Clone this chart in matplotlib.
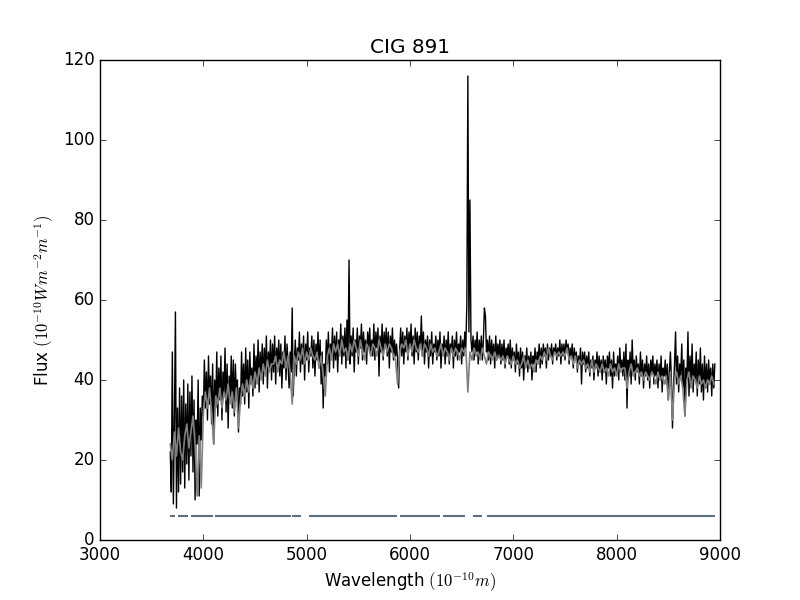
#!/usr/bin/env python3
import matplotlib
matplotlib.use('Agg')
import matplotlib.pyplot as plt
import numpy as np

obs_start, obs_step = 3680, 10
obs_flux = [
    22, 12, 47, 9, 30, 57, 8, 33, 12, 38,      # 3680
    14, 36, 17, 40, 13, 34, 19, 39, 15, 37,    # 3780
    21, 41, 17, 35, 10, 30, 24, 40, 11, 33,    # 3880
    25, 36, 31, 45, 33, 42, 30, 46, 34, 41,    # 3980
    29, 44, 24, 40, 33, 47, 31, 43, 35, 46,    # 4080
    30, 42, 36, 48, 32, 44, 28, 41, 35, 46,    # 4180
    33, 45, 31, 44, 36, 40, 27, 38, 34, 47,    # 4280
    36, 44, 34, 48, 37, 45, 33, 47, 39, 43,    # 4380
    36, 49, 38, 46, 40, 50, 37, 47, 41, 49,    # 4480
    39, 48, 42, 51, 38, 47, 43, 50, 40, 49,    # 4580
    42, 51, 39, 48, 44, 50, 41, 49, 38, 47,    # 4680
    43, 51, 40, 49, 44, 38, 47, 42, 58, 36,    # 4780
    44, 50, 41, 48, 45, 52, 42, 49, 44, 51,    # 4880
    40, 49, 45, 52, 42, 48, 46, 51, 43, 50,    # 4980
    41, 49, 45, 52, 43, 50, 39, 47, 33, 44,    # 5080
    41, 50, 44, 52, 42, 49, 46, 53, 43, 51,    # 5180
    45, 52, 42, 50, 47, 54, 44, 51, 46, 53,    # 5280
    43, 55, 45, 70, 44, 51, 46, 53, 42, 50,    # 5380
    47, 53, 44, 51, 48, 54, 45, 52, 47, 50,    # 5480
    44, 52, 48, 53, 46, 50, 46, 54, 45, 52,    # 5580
    48, 53, 41, 51, 47, 54, 45, 52, 48, 53,    # 5680
    46, 52, 43, 51, 47, 53, 45, 50, 46, 49,    # 5780
    45, 38, 48, 53, 46, 52, 44, 51, 47, 53,    # 5880
    45, 52, 48, 54, 46, 51, 44, 53, 47, 52,    # 5980
    45, 51, 48, 56, 46, 52, 44, 50, 47, 51,    # 6080
    43, 50, 46, 52, 44, 49, 47, 51, 45, 50,    # 6180
    46, 52, 43, 49, 47, 51, 44, 50, 46, 52,    # 6280
    44, 49, 47, 51, 43, 50, 46, 52, 45, 49,    # 6380
    47, 51, 44, 50, 46, 52, 48, 59, 116, 52,   # 6480
    85, 50, 47, 51, 45, 50, 47, 52, 44, 50,    # 6580
    46, 51, 45, 50, 58, 56, 47, 50, 45, 51,    # 6680
    44, 50, 46, 49, 43, 51, 45, 49, 46, 50,    # 6780
    44, 49, 45, 50, 43, 48, 46, 49, 44, 50,    # 6880
    43, 48, 45, 47, 42, 49, 44, 47, 41, 48,    # 6980
    43, 47, 40, 46, 44, 48, 42, 46, 43, 47,    # 7080
    40, 46, 44, 48, 42, 47, 45, 49, 43, 48,    # 7180
    44, 49, 46, 48, 43, 49, 45, 48, 46, 49,    # 7280
    44, 48, 47, 49, 45, 48, 46, 50, 44, 49,    # 7380
    46, 49, 45, 50, 47, 49, 44, 48, 46, 49,    # 7480
    43, 48, 45, 47, 42, 46, 44, 48, 39, 47,    # 7580
    44, 47, 42, 46, 43, 47, 41, 45, 43, 46,    # 7680
    40, 45, 43, 47, 41, 46, 42, 45, 40, 46,    # 7780
    42, 45, 39, 46, 43, 47, 41, 45, 38, 47,    # 7880
    41, 44, 42, 46, 40, 48, 43, 45, 41, 47,    # 7980
    40, 49, 33, 45, 41, 47, 39, 50, 42, 45,    # 8080
    40, 46, 42, 44, 39, 47, 41, 45, 38, 44,    # 8180
    41, 46, 40, 44, 38, 45, 42, 46, 39, 44,    # 8280
    41, 45, 38, 44, 40, 46, 37, 43, 41, 45,    # 8380
    39, 44, 35, 42, 47, 40, 28, 38, 44, 52,    # 8480
    39, 46, 37, 44, 41, 49, 38, 45, 31, 43,    # 8580
    40, 52, 36, 46, 39, 49, 37, 44, 40, 47,    # 8680
    36, 45, 39, 48, 37, 44, 35, 46, 38, 44,    # 8780
    37, 45, 39, 43, 36, 44, 38, 44,            # 8880
]

# synthetic (model) spectrum, every 20 A starting at 3680 A
syn_start, syn_step = 3680, 20
syn_flux = [
    24, 20, 27, 21, 28, 22, 20, 26, 29, 23,    # 3680
    27, 31, 24, 11, 26, 13, 32, 37, 33, 38,    # 3880
    32, 24, 36, 34, 38, 33, 37, 35, 39, 34,    # 4080
    37, 32, 38, 28, 35, 39, 36, 40, 37, 41,    # 4280
    38, 42, 39, 43, 40, 44, 41, 45, 42, 44,    # 4480
    44, 46, 42, 45, 44, 47, 43, 46, 42, 34,    # 4680
    46, 44, 47, 45, 48, 44, 47, 45, 48, 46,    # 4880
    45, 47, 43, 46, 41, 36, 46, 48, 45, 49,    # 5080
    47, 49, 46, 50, 47, 48, 45, 49, 47, 50,    # 5280
    48, 46, 50, 47, 45, 49, 48, 46, 49, 48,    # 5480
    46, 50, 48, 46, 49, 47, 49, 48, 46, 45,    # 5680
    39, 47, 49, 48, 50, 46, 49, 47, 50, 48,    # 5880
    47, 49, 46, 49, 48, 46, 49, 47, 48, 46,    # 6080
    47, 49, 46, 48, 47, 45, 48, 46, 48, 47,    # 6280
    45, 48, 47, 48, 37, 47, 45, 48, 46, 47,    # 6480
    45, 48, 46, 44, 47, 46, 45, 47, 45, 46,    # 6680
    45, 46, 44, 46, 45, 44, 46, 44, 45, 43,    # 6880
    44, 46, 43, 45, 43, 44, 42, 45, 44, 46,    # 7080
    45, 47, 45, 48, 46, 45, 47, 46, 47, 46,    # 7280
    47, 46, 48, 45, 46, 44, 46, 43, 45, 44,    # 7480
    45, 43, 44, 42, 45, 42, 44, 43, 42, 44,    # 7680
    42, 43, 41, 44, 42, 43, 41, 44, 42, 43,    # 7880
    43, 38, 42, 44, 41, 42, 43, 41, 42, 40,    # 8080
    42, 41, 40, 42, 41, 39, 42, 40, 41, 39,    # 8280
    41, 35, 42, 30, 40, 42, 39, 41, 38, 31,    # 8480
    40, 42, 38, 41, 40, 38, 41, 39, 40, 38,    # 8680
    40, 39, 41, 39,                            # 8880
]

# fitted (unmasked) wavelength windows, drawn as a line at flux 6
mask_lo = [3679, 3750, 3877, 4109, 4860, 5019, 5907, 6317, 6606, 6743]
mask_hi = [3722, 3855, 4092, 4849, 4948, 5872, 6295, 6535, 6697, 8950]
mask_level = 6

plt.style.use('classic')

obs_wave = obs_start + obs_step * np.arange(len(obs_flux))
syn_wave = syn_start + syn_step * np.arange(len(syn_flux))

fig, ax = plt.subplots(figsize=(8, 6), dpi=100)
ax.plot(obs_wave, obs_flux, color='k', lw=1.0)
ax.plot(syn_wave, syn_flux, color='0.5', lw=1.2)
ax.hlines([mask_level] * len(mask_lo), mask_lo, mask_hi, color='#607080', lw=1.5)

ax.set_xlim(3000, 9000)
ax.set_ylim(0, 120)
ax.set_title('CIG 891')
ax.set_xlabel(r'Wavelength $(10^{-10} m)$')
ax.set_ylabel(r'Flux $(10^{-10} W m^{-2} m^{-1})$')

fig.savefig('out.png', dpi=100, facecolor='white')
